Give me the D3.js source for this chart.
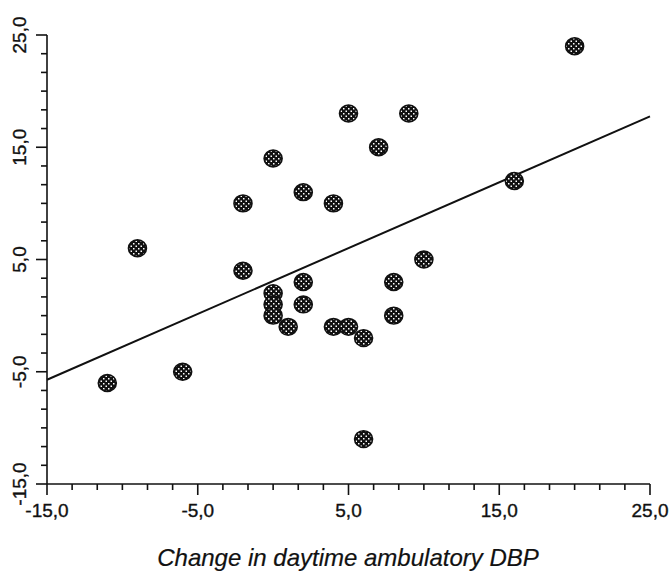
<!DOCTYPE html>
<html>
<head>
<meta charset="utf-8">
<script src="https://cdn.jsdelivr.net/npm/d3@7"></script>
<style>
  html, body { margin: 0; padding: 0; background: #fff; }
  svg { display: block; }
  text { font-family: "Liberation Sans", Arial, sans-serif; fill: #111; stroke: #111; stroke-width: 0.35px; }
</style>
</head>
<body>
<svg id="chart" width="672" height="574"></svg>
<script>
// Data: change in daytime ambulatory DBP (x) vs. other change (y)
const xValues = [-11, -9, -6, -2, -2, 0, 0, 0, 0, 1, 2, 2, 2, 4, 5, 6, 6, 8, 8, 10, 4, 5, 7, 9, 20, 16];
const yValues = [-6, 6, -5, 10, 4, 14, 2, 1, 0, -1, 11, 3, 1, -1, -1, -2, -11, 3, 0, 5, 10, 18, 15, 18, 24, 12];
const xTickLabels = ["-15,0", "-5,0", "5,0", "15,0", "25,0"];
const yTickLabels = ["-15,0", "-5,0", "5,0", "15,0", "25,0"];
const xTitle = "Change in daytime ambulatory DBP";

(function () {
const svg = d3.select("#chart");
const mLeft = 47, mRight = 650, mTop = 35, mBottom = 484;

const x = d3.scaleLinear().domain([-15, 25]).range([mLeft, mRight]);
const y = d3.scaleLinear().domain([-15, 25]).range([mBottom, mTop]);

const majorVals = [-15, -5, 5, 15, 25];
const minorVals = d3.range(0, 25).map(i => -15 + i * 10 / 6).filter(v => !majorVals.some(m => Math.abs(m - v) < 1e-6));

// pattern for markers
const defs = svg.append("defs");
const pat = defs.append("pattern").attr("id", "dots").attr("patternUnits", "userSpaceOnUse")
  .attr("width", 5).attr("height", 5);
pat.append("rect").attr("width", 5).attr("height", 5).attr("fill", "#111");
pat.append("rect").attr("x", 0.5).attr("y", 0.5).attr("width", 1.5).attr("height", 1.5).attr("fill", "#fff");
pat.append("rect").attr("x", 3).attr("y", 3).attr("width", 1.5).attr("height", 1.5).attr("fill", "#fff");

// X axis
const gx = svg.append("g");
gx.append("line").attr("x1", mLeft).attr("x2", mRight).attr("y1", mBottom).attr("y2", mBottom)
  .attr("stroke", "#111").attr("stroke-width", 1.6);
gx.selectAll("line.major").data(majorVals).join("line").attr("class", "major")
  .attr("x1", d => x(d)).attr("x2", d => x(d)).attr("y1", mBottom).attr("y2", mBottom + 11)
  .attr("stroke", "#111").attr("stroke-width", 1.6);
gx.selectAll("line.minor").data(minorVals).join("line").attr("class", "minor")
  .attr("x1", d => x(d)).attr("x2", d => x(d)).attr("y1", mBottom).attr("y2", mBottom + 6)
  .attr("stroke", "#111").attr("stroke-width", 1.6);
gx.selectAll("text").data(majorVals).join("text")
  .attr("x", d => x(d)).attr("y", 517).attr("text-anchor", "middle")
  .attr("font-size", 19).text((d, i) => xTickLabels[i]);

// Y axis
const gy = svg.append("g");
gy.append("line").attr("x1", mLeft).attr("x2", mLeft).attr("y1", mTop).attr("y2", mBottom)
  .attr("stroke", "#111").attr("stroke-width", 1.6);
gy.selectAll("line.major").data(majorVals).join("line").attr("class", "major")
  .attr("x1", mLeft - 11).attr("x2", mLeft).attr("y1", d => y(d)).attr("y2", d => y(d))
  .attr("stroke", "#111").attr("stroke-width", 1.6);
gy.selectAll("line.minor").data(minorVals).join("line").attr("class", "minor")
  .attr("x1", mLeft - 6).attr("x2", mLeft).attr("y1", d => y(d)).attr("y2", d => y(d))
  .attr("stroke", "#111").attr("stroke-width", 1.6);
gy.selectAll("text").data(majorVals).join("text")
  .attr("transform", d => `translate(26,${y(d)}) rotate(-90)`)
  .attr("text-anchor", "middle").attr("font-size", 19).text((d, i) => yTickLabels[i]);

// Regression line (least squares from the data)
const mx = d3.mean(xValues), my = d3.mean(yValues);
let sxy = 0, sxx = 0;
xValues.forEach((v, i) => { sxy += (v - mx) * (yValues[i] - my); sxx += (v - mx) * (v - mx); });
const slope = sxy / sxx, intercept = my - slope * mx;
svg.append("line")
  .attr("x1", x(-15)).attr("y1", y(intercept + slope * -15))
  .attr("x2", x(25)).attr("y2", y(intercept + slope * 25))
  .attr("stroke", "#111").attr("stroke-width", 2);

// Points
svg.append("g").selectAll("ellipse").data(xValues.map((v, i) => [v, yValues[i]])).join("ellipse")
  .attr("cx", d => x(d[0])).attr("cy", d => y(d[1]))
  .attr("rx", 9).attr("ry", 8.4)
  .attr("fill", "url(#dots)").attr("stroke", "#111").attr("stroke-width", 1.6);

// Axis title
svg.append("text").attr("x", 348).attr("y", 566).attr("text-anchor", "middle")
  .attr("font-size", 24).attr("font-style", "italic").style("stroke-width", "0.2px").text(xTitle);
})();
</script>
</body>
</html>
